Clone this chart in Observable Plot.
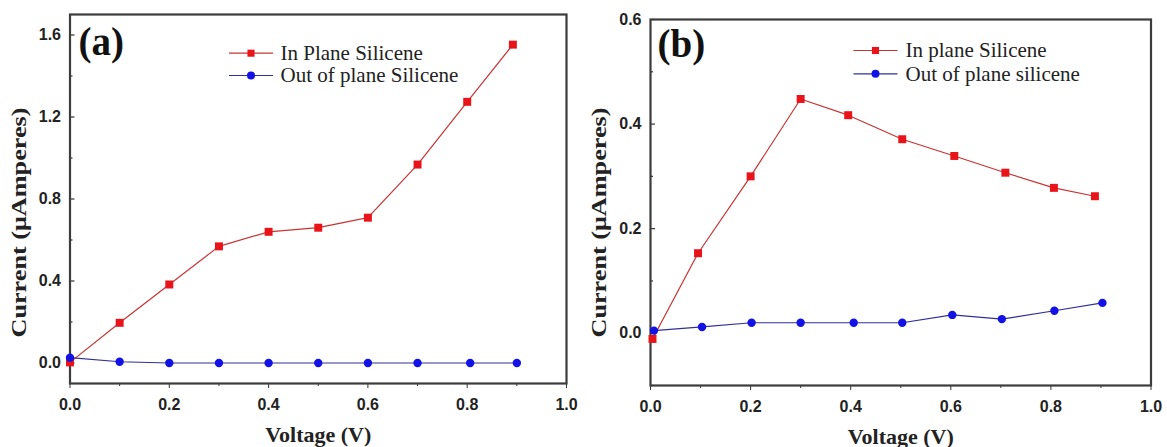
<!DOCTYPE html>
<html><head><meta charset="utf-8">
<script src="https://cdn.jsdelivr.net/npm/d3@7"></script>
<script src="https://cdn.jsdelivr.net/npm/@observablehq/plot@0.6"></script>
<style>
body{margin:0;background:#fff;}
#wrap{position:relative;width:1167px;height:447px;overflow:hidden;background:#fff;}
.panel{position:absolute;top:0;}
</style></head><body><div id="wrap"></div>
<script>
// ---- data ----
const panelLabels = ["(a)", "(b)"];
const seriesNamesA = ["In Plane Silicene", "Out of plane Silicene"];
const seriesNamesB = ["In plane Silicene", "Out of plane silicene"];
const xLabel = "Voltage (V)";
const yLabel = "Current (\u03BCAmperes)";

const voltageAIn  = [0.0, 0.1, 0.2, 0.3, 0.4, 0.5, 0.6, 0.7, 0.8, 0.892];
const currentAIn  = [0.003, 0.196, 0.383, 0.569, 0.640, 0.660, 0.709, 0.968, 1.274, 1.553];
const voltageAOut = [0.0, 0.1, 0.2, 0.3, 0.4, 0.5, 0.6, 0.7, 0.806, 0.9];
const currentAOut = [0.026, 0.006, 0.0, 0.0, 0.0, 0.0, 0.0, 0.0, 0.0, 0.0];

const voltageBIn  = [0.004, 0.095, 0.2, 0.3, 0.395, 0.503, 0.607, 0.709, 0.806, 0.888];
const currentBIn  = [-0.011, 0.153, 0.300, 0.448, 0.417, 0.371, 0.339, 0.307, 0.278, 0.262];
const voltageBOut = [0.007, 0.103, 0.202, 0.3, 0.406, 0.503, 0.603, 0.702, 0.807, 0.903];
const currentBOut = [0.005, 0.012, 0.020, 0.020, 0.020, 0.020, 0.035, 0.027, 0.043, 0.058];

const xMajor = [0, 0.2, 0.4, 0.6, 0.8, 1.0];
const xMinor = [0.1, 0.3, 0.5, 0.7, 0.9];
const yMajorA = [0, 0.4, 0.8, 1.2, 1.6];
const yMinorA = [0.2, 0.6, 1.0, 1.4];
const yMajorB = [0, 0.2, 0.4, 0.6];
const yMinorB = [-0.1, 0.1, 0.3, 0.5];

const zip = (xs, ys) => xs.map((x, i) => ({x, y: ys[i]}));

const RED_LINE = "#c83434", RED_DOT = "#e8141a";
const BLUE_LINE = "#30309a", BLUE_DOT = "#1212e6";
const SANS = "Liberation Sans, Arial, sans-serif";
const SERIF = "Liberation Serif, Times New Roman, serif";

const segment = {draw(ctx) { ctx.moveTo(-22, 0); ctx.lineTo(22, 0); }};

function panel(cfg) {
  const {width, height, mL, mR, mT, mB, yDomain, yMajor, yMinor, inData, outData, names, label,
         labelDx, labelDy, legX, legY1, legY2, textX} = cfg;
  const fw = width - mL - mR;
  const fh = height - mT - mB;
  const plot = Plot.plot({
    width, height,
    marginLeft: mL, marginRight: mR, marginTop: mT, marginBottom: mB,
    style: {background: "transparent", overflow: "visible"},
    x: {domain: [0, 1]},
    y: {domain: yDomain},
    marks: [
      Plot.axisX({ticks: xMajor, tickFormat: ".1f", tickSize: 5, tickPadding: 10, stroke: "#333",
                  fontSize: 16, fontWeight: "bold", fontFamily: SANS, fill: "#222", label: null}),
      Plot.axisX({ticks: xMinor, tickFormat: () => "", tickSize: 3, stroke: "#333", label: null}),
      Plot.axisY({ticks: yMajor, tickFormat: ".1f", tickSize: 0, tickPadding: 9,
                  fontSize: 16, fontWeight: "bold", fontFamily: SANS, fill: "#222", label: null}),
      Plot.tickY(yMajor, {y: d => d, insetRight: fw - 5, stroke: "#333", strokeWidth: 1.2}),
      Plot.tickY(yMinor, {y: d => d, insetRight: fw - 3, stroke: "#333", strokeWidth: 1.2}),
      Plot.frame({stroke: "#3c3c3c", strokeWidth: 2.2}),
      Plot.line(inData, {x: "x", y: "y", stroke: RED_LINE, strokeWidth: 1.2}),
      Plot.line(outData, {x: "x", y: "y", stroke: BLUE_LINE, strokeWidth: 1.2}),
      Plot.dot(inData, {x: "x", y: "y", symbol: "square", r: 4.5, fill: RED_DOT}),
      Plot.dot(outData, {x: "x", y: "y", symbol: "circle", r: 4.2, fill: BLUE_DOT}),
      // panel label
      Plot.text([label], {x: null, y: null, text: d => d, frameAnchor: "top-left", dx: labelDx, dy: labelDy,
                 textAnchor: "start", lineAnchor: "bottom", fontSize: 39, fontWeight: "bold",
                 fontFamily: SERIF, fill: "#111"}),
      // legend
      Plot.dot([0], {x: null, y: null, frameAnchor: "top-left", dx: legX, dy: legY1, symbol: segment,
                     fill: "none", stroke: RED_LINE, strokeWidth: 1.2}),
      Plot.dot([0], {x: null, y: null, frameAnchor: "top-left", dx: legX, dy: legY1, symbol: "square",
                     r: 4, fill: RED_DOT}),
      Plot.dot([0], {x: null, y: null, frameAnchor: "top-left", dx: legX, dy: legY2, symbol: segment,
                     fill: "none", stroke: BLUE_LINE, strokeWidth: 1.2}),
      Plot.dot([0], {x: null, y: null, frameAnchor: "top-left", dx: legX, dy: legY2, symbol: "circle",
                     r: 4, fill: BLUE_DOT}),
      Plot.text([names[0]], {x: null, y: null, text: d => d, frameAnchor: "top-left", dx: textX, dy: legY1,
                 textAnchor: "start", lineAnchor: "middle", fontSize: 21, fontFamily: SERIF, fill: "#222"}),
      Plot.text([names[1]], {x: null, y: null, text: d => d, frameAnchor: "top-left", dx: textX, dy: legY2,
                 textAnchor: "start", lineAnchor: "middle", fontSize: 21, fontFamily: SERIF, fill: "#222"}),
      // axis titles
      Plot.text([xLabel], {x: null, y: null, text: d => d, frameAnchor: "bottom", dy: 58,
                 lineAnchor: "bottom", fontSize: 22, fontWeight: "bold", fontFamily: SERIF, fill: "#222"}),
      Plot.text([yLabel], {x: null, y: null, text: d => d, frameAnchor: "left", dx: -51, dy: 337 - (mT + fh / 2),
                 textAnchor: "start", rotate: -90, fontSize: 21, fontWeight: "bold", fontFamily: SERIF, fill: "#222"})
    ]
  });
  plot.querySelectorAll("text").forEach(t => {
    if (t.textContent === yLabel) {
      t.setAttribute("textLength", 230);
      t.setAttribute("lengthAdjust", "spacingAndGlyphs");
    }
  });
  return plot;
}

const wrap = document.getElementById("wrap");

const pa = panel({
  width: 580, height: 447, mL: 69.5, mR: 14, mT: 14, mB: 64,
  yDomain: [-0.1, 1.7], yMajor: yMajorA, yMinor: yMinorA,
  inData: zip(voltageAIn, currentAIn), outData: zip(voltageAOut, currentAOut),
  names: seriesNamesA, label: panelLabels[0],
  labelDx: 8.5, labelDy: 40, legX: 250.5 - 69.5, legY1: 52.7 - 14, legY2: 75 - 14, textX: 280 - 69.5
});
pa.classList.add("panel");
pa.style.left = "0px";
wrap.appendChild(pa);

const pb = panel({
  width: 587, height: 447, mL: 70, mR: 16.5, mT: 19, mB: 62,
  yDomain: [-0.1, 0.6], yMajor: yMajorB, yMinor: yMinorB,
  inData: zip(voltageBIn, currentBIn), outData: zip(voltageBOut, currentBOut),
  names: seriesNamesB, label: panelLabels[1],
  labelDx: 7, labelDy: 37, legX: 875 - 650, legY1: 50 - 19, legY2: 73.3 - 19, textX: 905 - 650
});
pb.classList.add("panel");
pb.style.left = "580px";
wrap.appendChild(pb);
</script>
</body></html>
